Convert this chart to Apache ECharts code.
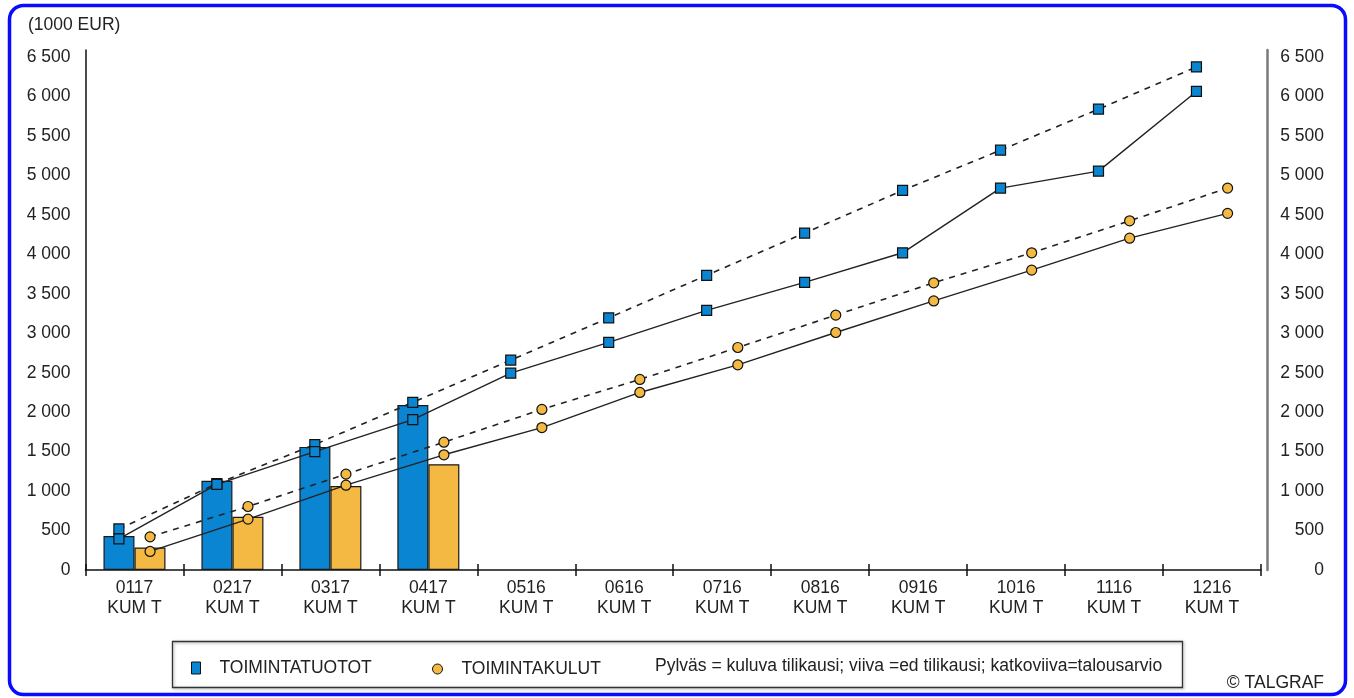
<!DOCTYPE html>
<html>
<head>
<meta charset="utf-8">
<script src="https://cdn.jsdelivr.net/npm/echarts@6/dist/echarts.min.js"></script>
<style>
html,body{margin:0;padding:0;background:#fff;}
#chart{width:1354px;height:698px;}
</style>
</head>
<body>
<div id="chart"></div>
<script>
const categories = ['0117','0217','0317','0417','0516','0616','0716','0816','0916','1016','1116','1216'];
const yTicks = [0,500,1000,1500,2000,2500,3000,3500,4000,4500,5000,5500,6000,6500];
// bars: current fiscal year
const tuototBar = [430,1130,1560,2090,null,null,null,null,null,null,null,null];
const kulutBar  = [285,675,1065,1340,null,null,null,null,null,null,null,null];
// solid line: previous fiscal year
const tuototPrev = [395,1085,1500,1905,2495,2885,3290,3645,4020,4840,5055,6065];
const kulutPrev  = [235,645,1075,1460,1805,2250,2600,3010,3410,3800,4205,4520];
// dashed line: budget
const tuototBudget = [520,1095,1590,2125,2660,3195,3735,4270,4810,5320,5840,6375];
const kulutBudget  = [420,805,1215,1620,2035,2415,2820,3230,3640,4020,4425,4840];

const BLUE = '#0a85d2';
const ORANGE = '#f4b942';
const TXT = '#222';
const FONT = 'Liberation Sans, Arial, sans-serif';
const FS = 17.5;
const OFF = 0.159;

function shifted(arr, d){ return arr.map((v,i)=>[i+d, v]); }
function fmt(v){ return String(v).replace(/\B(?=(\d{3})+(?!\d))/g,' '); }

const chart = echarts.init(document.getElementById('chart'), null, {renderer:'canvas'});

const yCommon = {
  type:'value', min:0, max:6590, interval:500,
  splitLine:{show:false}, axisTick:{show:false}
};

chart.setOption({
  animation:false,
  textStyle:{fontFamily:FONT},
  grid:{left:85.5, right:93, top:50, bottom:128, containLabel:false},
  legend:[
    {left:191, top:659, padding:0, itemWidth:9, itemHeight:12,
     textStyle:{fontSize:FS, color:TXT, fontFamily:FONT, padding:[0,0,0,14]},
     data:[{name:'TOIMINTATUOTOT', icon:'rect', itemStyle:{color:BLUE, borderColor:'#111', borderWidth:1}}],
     selectedMode:false},
    {left:432, top:660, padding:0, itemWidth:10, itemHeight:10,
     textStyle:{fontSize:FS, color:TXT, fontFamily:FONT, padding:[0,0,0,14]},
     data:[{name:'TOIMINTAKULUT', icon:'circle', itemStyle:{color:ORANGE, borderColor:'#111', borderWidth:1}}],
     selectedMode:false}
  ],
  xAxis:[
    {type:'category', data:categories, position:'bottom',
     axisLine:{lineStyle:{color:'#111', width:1.5}},
     axisTick:{show:true, length:6, lineStyle:{color:'#111', width:1.5}},
     axisLabel:{color:TXT, fontSize:FS, fontFamily:FONT, margin:8, lineHeight:20,
       formatter:(v)=>v+'\nKUM T'}},
    {type:'category', data:categories, position:'bottom',
     axisLine:{show:false}, axisLabel:{show:false},
     axisTick:{show:true, inside:true, length:6, lineStyle:{color:'#111', width:1.5}}},
    {type:'value', min:-0.5, max:11.5, show:false}
  ],
  yAxis:[
    Object.assign({}, yCommon, {position:'left',
      axisLine:{show:true, onZero:false, lineStyle:{color:'#111', width:1.5}},
      axisLabel:{color:TXT, fontSize:FS, fontFamily:FONT, margin:15, showMaxLabel:false,
        formatter:(v)=> yTicks.includes(v) ? fmt(v) : ''}}),
    Object.assign({}, yCommon, {position:'right', offset:6,
      axisLine:{show:true, onZero:false, lineStyle:{color:'#7a7a7a', width:2.5}},
      axisLabel:{color:TXT, fontSize:FS, fontFamily:FONT, margin:57, align:'right', showMaxLabel:false,
        formatter:(v)=> yTicks.includes(v) ? fmt(v) : ''}})
  ],
  series:[
    {name:'TOIMINTATUOTOT', type:'bar', xAxisIndex:0, yAxisIndex:0, data:tuototBar,
     barWidth:31, barGap:'0%', itemStyle:{color:BLUE, borderColor:'#1a1a1a', borderWidth:1.2}, z:2},
    {name:'TOIMINTAKULUT', type:'bar', xAxisIndex:0, yAxisIndex:0, data:kulutBar,
     barWidth:31, barGap:'0%', itemStyle:{color:ORANGE, borderColor:'#1a1a1a', borderWidth:1.2}, z:2},
    {name:'TOIMINTATUOTOT', type:'line', xAxisIndex:2, yAxisIndex:0, data:shifted(tuototBudget,-OFF),
     symbol:'rect', symbolSize:10, lineStyle:{color:'#222', width:1.6, type:[6,6]},
     itemStyle:{color:BLUE, borderColor:'#111', borderWidth:1.2}, z:5},
    {name:'TOIMINTATUOTOT', type:'line', xAxisIndex:2, yAxisIndex:0, data:shifted(tuototPrev,-OFF),
     symbol:'rect', symbolSize:10, lineStyle:{color:'#222', width:1.4},
     itemStyle:{color:BLUE, borderColor:'#111', borderWidth:1.2}, z:5},
    {name:'TOIMINTAKULUT', type:'line', xAxisIndex:2, yAxisIndex:0, data:shifted(kulutBudget,OFF),
     symbol:'circle', symbolSize:10, lineStyle:{color:'#222', width:1.6, type:[6,6]},
     itemStyle:{color:ORANGE, borderColor:'#111', borderWidth:1.2}, z:5},
    {name:'TOIMINTAKULUT', type:'line', xAxisIndex:2, yAxisIndex:0, data:shifted(kulutPrev,OFF),
     symbol:'circle', symbolSize:10, lineStyle:{color:'#222', width:1.4},
     itemStyle:{color:ORANGE, borderColor:'#111', borderWidth:1.2}, z:5}
  ],
  graphic:[
    {type:'rect', shape:{x:9.5, y:5.5, width:1336, height:689, r:14}, silent:true,
     style:{fill:null, stroke:'#0a0aff', lineWidth:3.5}},
    {type:'rect', shape:{x:172.5, y:641.5, width:1010, height:46}, silent:true,
     style:{fill:null, stroke:'#333', lineWidth:1.3, shadowBlur:3, shadowColor:'rgba(0,0,0,0.35)', shadowOffsetX:1, shadowOffsetY:1}},
    {type:'text', left:655, top:657, silent:true,
     style:{text:'Pylväs = kuluva tilikausi; viiva =ed tilikausi; katkoviiva=talousarvio', fontSize:FS, fontFamily:FONT, fill:TXT}},
    {type:'text', left:28, top:16, silent:true,
     style:{text:'(1000 EUR)', fontSize:FS, fontFamily:FONT, fill:TXT}},
    {type:'text', right:30, top:674, silent:true,
     style:{text:'© TALGRAF', fontSize:FS, fontFamily:FONT, fill:TXT}}
  ]
});
</script>
</body>
</html>
